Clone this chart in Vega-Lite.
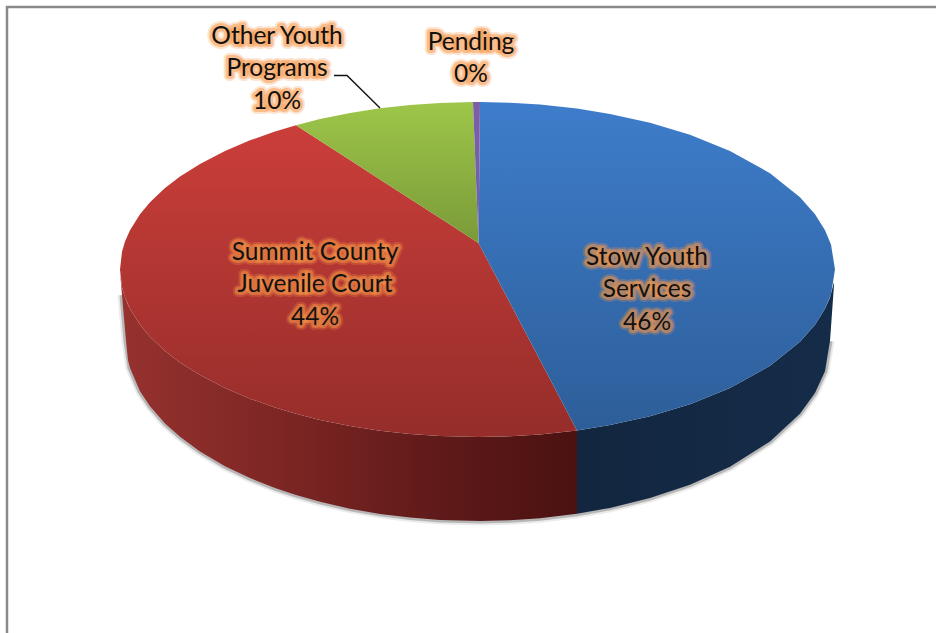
{"$schema":"https://vega.github.io/schema/vega-lite/v6.json","width":936,"height":633,"padding":0,"autosize":{"type":"none"},"background":"white","view":{"stroke":null},
"datasets":{
"blueTop":[{"x":478.5,"y":243,"y2":243},{"x":480,"y":102,"y2":245.9},{"x":510,"y":102.7,"y2":302.9},{"x":540,"y":104.6,"y2":360},{"x":577,"y":108.6,"y2":430.4},{"x":610,"y":113.9,"y2":425.1},{"x":650,"y":122.8,"y2":416.2},{"x":690,"y":134.8,"y2":404.2},{"x":730,"y":150.9,"y2":388.1},{"x":770,"y":173.2,"y2":365.8},{"x":800,"y":197.2,"y2":341.8},{"x":815,"y":214.3,"y2":324.7},{"x":825,"y":230.2,"y2":308.8},{"x":831,"y":244.5,"y2":294.5},{"x":835,"y":269.5,"y2":269.5}],
"redTop":[{"x":120,"y":269.5,"y2":269.5},{"x":122,"y":251.8,"y2":287.2},{"x":125,"y":241.6,"y2":297.4},{"x":130,"y":230.2,"y2":308.8},{"x":140,"y":214.3,"y2":324.7},{"x":150,"y":202.3,"y2":336.7},{"x":165,"y":188.1,"y2":350.9},{"x":180,"y":176.6,"y2":362.4},{"x":200,"y":163.9,"y2":375.1},{"x":225,"y":150.9,"y2":388.1},{"x":250,"y":140.3,"y2":398.7},{"x":275,"y":131.5,"y2":407.5},{"x":296,"y":125.2,"y2":413.8},{"x":320,"y":140.7,"y2":419.9},{"x":350,"y":160.1,"y2":426},{"x":380,"y":179.4,"y2":430.7},{"x":410,"y":198.8,"y2":434},{"x":440,"y":218.1,"y2":436.1},{"x":478.5,"y":243,"y2":437},{"x":510,"y":302.9,"y2":436.3},{"x":540,"y":360,"y2":434.4},{"x":577,"y":430.4,"y2":430.4}],
"greenTop":[{"x":296,"y":125.2,"y2":125.2},{"x":320,"y":119.1,"y2":140.7},{"x":350,"y":113,"y2":160.1},{"x":380,"y":108.3,"y2":179.4},{"x":410,"y":105,"y2":198.8},{"x":440,"y":102.9,"y2":218.1},{"x":473,"y":102,"y2":239.5},{"x":478.5,"y":243,"y2":243}],
"pendingTop":[{"x":473,"y":102,"y2":102},{"x":478.5,"y":102,"y2":243},{"x":480,"y":102,"y2":102}],
"redSide":[{"x":120,"y":272,"y2":272},{"x":122,"y":287.2,"y2":295},{"x":125,"y":297.4,"y2":329.5},{"x":126,"y":300.1,"y2":341},{"x":128,"y":304.7,"y2":360.2},{"x":130,"y":308.8,"y2":368.1},{"x":140,"y":324.7,"y2":391.3},{"x":150,"y":336.7,"y2":406.3},{"x":165,"y":350.9,"y2":423.4},{"x":180,"y":362.4,"y2":436.8},{"x":200,"y":375.1,"y2":451.4},{"x":225,"y":388.1,"y2":466.2},{"x":250,"y":398.7,"y2":478.1},{"x":275,"y":407.5,"y2":488.1},{"x":296,"y":413.8,"y2":495.1},{"x":320,"y":419.9,"y2":501.8},{"x":350,"y":426,"y2":508.7},{"x":380,"y":430.7,"y2":513.9},{"x":410,"y":434,"y2":517.6},{"x":440,"y":436.1,"y2":520},{"x":480,"y":437,"y2":521},{"x":510,"y":436.3,"y2":520.3},{"x":540,"y":434.4,"y2":518.2},{"x":577,"y":430.4,"y2":513.7}],
"blueSide":[{"x":577,"y":430.4,"y2":513.7},{"x":610,"y":425.1,"y2":507.9},{"x":650,"y":416.2,"y2":498},{"x":690,"y":404.2,"y2":484.7},{"x":730,"y":388.1,"y2":466.7},{"x":770,"y":365.8,"y2":441.5},{"x":800,"y":341.8,"y2":413.7},{"x":815,"y":324.7,"y2":393},{"x":825,"y":308.8,"y2":371.2},{"x":830,"y":297.4,"y2":341},{"x":834,"y":282,"y2":285}],
"rim":[{"x":122,"y2":295},{"x":126,"y2":341},{"x":130,"y2":368.1},{"x":140,"y2":391.3},{"x":150,"y2":406.3},{"x":165,"y2":423.4},{"x":180,"y2":436.8},{"x":200,"y2":451.4},{"x":225,"y2":466.2},{"x":250,"y2":478.1},{"x":275,"y2":488.1},{"x":296,"y2":495.1},{"x":320,"y2":501.8},{"x":350,"y2":508.7},{"x":380,"y2":513.9},{"x":410,"y2":517.6},{"x":440,"y2":520},{"x":480,"y2":521},{"x":510,"y2":520.3},{"x":540,"y2":518.2},{"x":577,"y2":513.7},{"x":610,"y2":507.9},{"x":650,"y2":498},{"x":690,"y2":484.7},{"x":730,"y2":466.7},{"x":770,"y2":441.5},{"x":800,"y2":413.7},{"x":815,"y2":393},{"x":825,"y2":371.2},{"x":830,"y2":341}],
"frame":[{"x":7,"y":633,"o":1},{"x":7,"y":7,"o":2},{"x":936,"y":7,"o":3}],
"leader":[{"x":334,"y":75.5,"o":1},{"x":347,"y":75.5,"o":2},{"x":380,"y":108,"o":3}],
"labels":[{"category":"Stow Youth Services","share":46,"text":"Stow Youth\nServices\n46%","x":647,"y":257.5},{"category":"Summit County Juvenile Court","share":44,"text":"Summit County\nJuvenile Court\n44%","x":315,"y":252.5},{"category":"Other Youth Programs","share":10,"text":"Other Youth\nPrograms\n10%","x":277,"y":36.5},{"category":"Pending","share":0,"text":"Pending\n0%","x":471,"y":42.5}]
},
"encoding":{
"x":{"field":"x","type":"quantitative","scale":{"domain":[0,936],"nice":false,"zero":false},"axis":null},
"y":{"field":"y","type":"quantitative","scale":{"domain":[0,633],"reverse":true,"nice":false,"zero":false},"axis":null}
},
"layer":[
{"data":{"name":"frame"},"mark":{"type":"line","stroke":"#8a8a8a","strokeWidth":2.5,"clip":false},"encoding":{"order":{"field":"o"}}},
{"data":{"name":"rim"},"mark":{"type":"line","stroke":"#777777","strokeWidth":9,"opacity":0.15},"encoding":{"y":{"field":"y2","type":"quantitative"}}},
{"data":{"name":"rim"},"mark":{"type":"line","stroke":"#555555","strokeWidth":5,"opacity":0.35},"encoding":{"y":{"field":"y2","type":"quantitative"}}},
{"data":{"name":"redSide"},"mark":{"type":"area","orient":"vertical","fill":{"gradient":"linear","x1":0,"y1":0,"x2":1,"y2":0,"stops":[{"offset":0,"color":"#96322f"},{"offset":0.35,"color":"#7d2624"},{"offset":0.7,"color":"#5f1a19"},{"offset":1,"color":"#4a1211"}]}},"encoding":{"y2":{"field":"y2"}}},
{"data":{"name":"blueSide"},"mark":{"type":"area","orient":"vertical","fill":{"gradient":"linear","x1":0,"y1":0,"x2":1,"y2":0,"stops":[{"offset":0,"color":"#12263f"},{"offset":1,"color":"#152c49"}]}},"encoding":{"y2":{"field":"y2"}}},
{"data":{"name":"redTop"},"mark":{"type":"area","orient":"vertical","fill":{"gradient":"linear","x1":0,"y1":0,"x2":0,"y2":1,"stops":[{"offset":0,"color":"#cb3e3a"},{"offset":1,"color":"#952d2a"}]}},"encoding":{"y2":{"field":"y2"}}},
{"data":{"name":"blueTop"},"mark":{"type":"area","orient":"vertical","fill":{"gradient":"linear","x1":0,"y1":0,"x2":0,"y2":1,"stops":[{"offset":0,"color":"#3e7dcb"},{"offset":1,"color":"#2d5e99"}]}},"encoding":{"y2":{"field":"y2"}}},
{"data":{"name":"greenTop"},"mark":{"type":"area","orient":"vertical","fill":{"gradient":"linear","x1":0,"y1":0,"x2":0,"y2":1,"stops":[{"offset":0,"color":"#9dc649"},{"offset":1,"color":"#7a9a38"}]}},"encoding":{"y2":{"field":"y2"}}},
{"data":{"name":"pendingTop"},"mark":{"type":"area","orient":"vertical","fill":"#7a5ea8"},"encoding":{"y2":{"field":"y2"}}},
{"data":{"name":"leader"},"mark":{"type":"line","stroke":"#111111","strokeWidth":1.4},"encoding":{"order":{"field":"o"}}},
{"data":{"name":"labels"},"mark":{"type":"text","font":"Lato","fontSize":24.5,"lineBreak":"\n","lineHeight":32.5,"align":"center","baseline":"middle","stroke":"#f79646","strokeWidth":10,"strokeOpacity":0.25,"strokeJoin":"round","fillOpacity":0},"encoding":{"text":{"field":"text"}}},
{"data":{"name":"labels"},"mark":{"type":"text","font":"Lato","fontSize":24.5,"lineBreak":"\n","lineHeight":32.5,"align":"center","baseline":"middle","stroke":"#f79646","strokeWidth":6,"strokeOpacity":0.5,"strokeJoin":"round","fill":"#f79646","fillOpacity":0.5},"encoding":{"text":{"field":"text"}}},
{"data":{"name":"labels"},"mark":{"type":"text","font":"Lato","fontSize":24.5,"lineBreak":"\n","lineHeight":32.5,"align":"center","baseline":"middle","fill":"#111111"},"encoding":{"text":{"field":"text"}}}
]}
